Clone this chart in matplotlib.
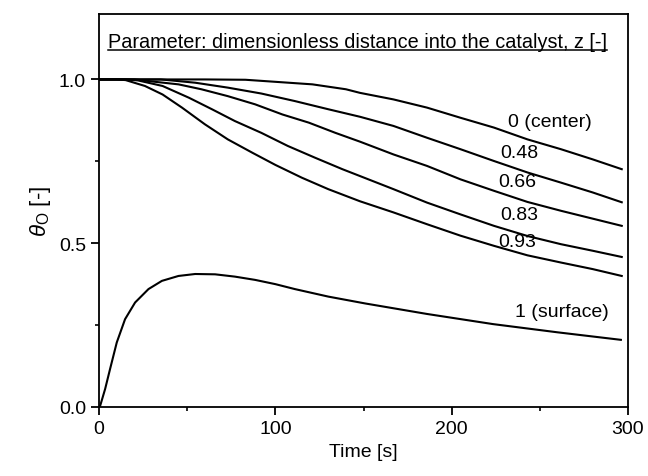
import matplotlib
matplotlib.use("Agg")
import matplotlib.pyplot as plt
import matplotlib.ticker as ticker

plt.rcParams['font.family'] = ['Liberation Sans', 'DejaVu Sans']
plt.rcParams['mathtext.fontset'] = 'custom'
plt.rcParams['mathtext.rm'] = 'Liberation Sans'
plt.rcParams['mathtext.it'] = 'Liberation Sans:italic'

# === 讀圖估計的數據 (time [s], theta_O [-]) ===
t_center = [0, 60, 83, 102, 121, 140, 148, 167, 186, 205, 224, 243, 262, 280, 296.5]
theta_center = [1.0, 1.0, 0.999, 0.992, 0.985, 0.970, 0.959, 0.939, 0.914, 0.883,
                0.853, 0.817, 0.787, 0.756, 0.726]

t_048 = [0, 35, 54.5, 73, 92, 111, 130, 148, 167, 186, 205, 224, 243, 262, 280, 296.5]
theta_048 = [1.0, 1.0, 0.99, 0.975, 0.957, 0.934, 0.909, 0.886, 0.858, 0.822, 0.787,
             0.751, 0.716, 0.685, 0.655, 0.625]

t_066 = [0, 20, 33, 45, 58, 73, 88.5, 104, 119, 134, 148, 167, 186, 205, 224, 243, 262, 280, 296.5]
theta_066 = [1.0, 1.0, 0.992, 0.985, 0.970, 0.949, 0.924, 0.893, 0.868, 0.837, 0.81,
             0.771, 0.736, 0.695, 0.660, 0.626, 0.599, 0.575, 0.553]

t_083 = [0, 15, 22, 36, 51, 64, 77, 92, 107, 122.5, 138, 148, 167, 186, 205, 224, 243, 262, 280, 296.5]
theta_083 = [1.0, 1.0, 0.997, 0.98, 0.944, 0.909, 0.873, 0.837, 0.797, 0.761, 0.726,
             0.705, 0.665, 0.624, 0.588, 0.553, 0.522, 0.497, 0.477, 0.458]

t_093 = [0, 10, 15, 26, 36, 47, 60, 73, 87, 100, 115, 130, 148, 167, 186, 205, 224, 243, 262, 280, 296.5]
theta_093 = [1.0, 1.0, 0.998, 0.98, 0.954, 0.914, 0.863, 0.817, 0.776, 0.739, 0.700,
             0.665, 0.628, 0.594, 0.558, 0.523, 0.492, 0.463, 0.441, 0.421, 0.40]

t_surf = [0, 0.6, 3.4, 6.2, 10, 14.7, 20.4, 28, 35.6, 45, 54.5, 65.8, 77, 88.5, 100,
          111, 130, 151, 186, 223.5, 260, 296]
theta_surf = [0.0, 0.004, 0.055, 0.116, 0.197, 0.268, 0.319, 0.360, 0.385, 0.400, 0.406,
              0.405, 0.398, 0.388, 0.375, 0.360, 0.337, 0.316, 0.284, 0.253, 0.228, 0.205]

curve_labels = ["0 (center)", "0.48", "0.66", "0.83", "0.93", "1 (surface)"]
label_t = [232, 227.5, 226.3, 227.5, 226.3, 236]
label_theta = [0.872, 0.777, 0.689, 0.588, 0.506, 0.29]

title_text = "Parameter: dimensionless distance into the catalyst, z [-]"

# === 建立圖表 ===
fig = plt.figure(figsize=(6.48, 4.77), dpi=100)
ax = fig.add_axes([0.153, 0.1447, 0.816, 0.824])

curves = [(t_center, theta_center), (t_048, theta_048), (t_066, theta_066),
          (t_083, theta_083), (t_093, theta_093), (t_surf, theta_surf)]
for tt, th in curves:
    ax.plot(tt, th, color="black", linewidth=1.5)

for lab, tx, ty in zip(curve_labels, label_t, label_theta):
    ax.text(tx, ty, lab, fontsize=14, ha="left", va="center")

ax.set_xlim(0, 300)
ax.set_ylim(0, 1.2)

title = ax.text(5, 1.115, title_text, fontsize=14.3, ha="left", va="center")
# 底線：依文字寬度畫
fig.canvas.draw()
bb = title.get_window_extent().transformed(ax.transData.inverted())
ax.plot([bb.x0, bb.x1], [1.091, 1.091], color="black", linewidth=1.1)

ax.xaxis.set_major_locator(ticker.MultipleLocator(100))
ax.xaxis.set_minor_locator(ticker.MultipleLocator(50))
ax.yaxis.set_major_locator(ticker.FixedLocator([0, 0.5, 1.0]))
ax.yaxis.set_minor_locator(ticker.FixedLocator([0.25, 0.75]))
ax.yaxis.set_major_formatter(ticker.FormatStrFormatter("%.1f"))
ax.tick_params(which="major", direction="out", length=6, width=1.3, labelsize=14)
ax.tick_params(which="minor", direction="out", length=3, width=1.2)
for s in ax.spines.values():
    s.set_linewidth(1.3)

ax.set_xlabel("Time [s]", fontsize=14)
ax.set_ylabel(r"$\theta_{\mathrm{O}}$ [-]", fontsize=16)

fig.savefig("out.png", dpi=100)
